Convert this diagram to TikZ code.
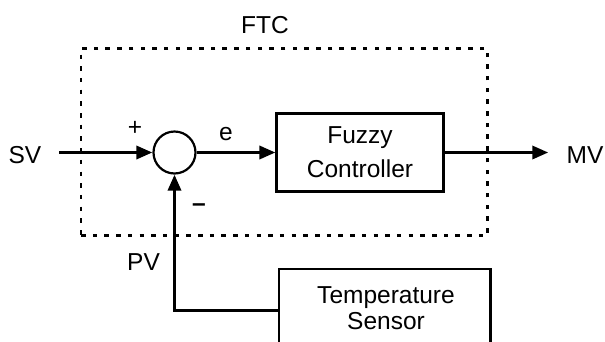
\documentclass[tikz,border=0pt]{standalone}
\usepackage{fontspec}
\setmainfont{Liberation Sans}
\usetikzlibrary{arrows.meta}
\begin{document}
\begin{tikzpicture}[x=1pt,y=-1pt,
  font=\fontsize{24.5}{28}\selectfont,
  arr/.style={line width=3.3pt,-{Triangle[length=16pt,width=13pt]}},
  blk/.style={draw,line width=2.5pt,inner sep=0pt},
  lbl/.style={inner sep=0pt,anchor=base},
  dotbox/.style={draw,line width=2.7pt,dash pattern=on 4.5pt off 7.2pt,inner sep=0pt},
]
\useasboundingbox (0,0) rectangle (605,341);
% dotted FTC frame
\node (ftcbox) [dotbox, minimum width=406.3pt, minimum height=187.4pt] at (284.2,142) {};
\node (ftc) [lbl] at (265,33.3) {FTC};
% blocks
\node (sum) [circle, draw, line width=2.2pt, minimum size=42pt, inner sep=0pt] at (174.5,152.5) {};
\node (fuzzy) [blk, minimum width=166.6pt, minimum height=77.7pt, align=center,
  font=\fontsize{24.5}{34}\selectfont] at (360,152.5) {Fuzzy\\Controller};
\node (sensor) [blk, anchor=north west, minimum width=211.3pt, minimum height=83.2pt] at (277.7,267.7) {};
\node (sensortxt) [inner sep=0pt, anchor=north, align=center,
  font=\fontsize{24.5}{26}\selectfont] at (386,286) {Temperature\\Sensor};
% labels
\node (sv) [lbl] at (25,163) {SV};
\node (mv) [lbl] at (585,163.3) {MV};
\node (pv) [lbl] at (143.5,270) {PV};
\node (e) [lbl] at (226,140) {e};
\node (plus) [inner sep=0pt] at (135,128) {+};
\node (minus) [inner sep=0pt, font=\fontsize{24.5}{28}\selectfont\bfseries] at (199,208) {–};
% connectors
\coordinate (svin) at (59.3,152.5);
\coordinate (mvout) at (548.3,152.5);
\draw[arr] (svin) -- (sum.west);
\draw[arr] (sum.east) -- (fuzzy.west);
\draw[arr] (fuzzy.east) -- (mvout);
\draw[arr] (sensor.west) -| (sum.south);
\end{tikzpicture}
\end{document}
